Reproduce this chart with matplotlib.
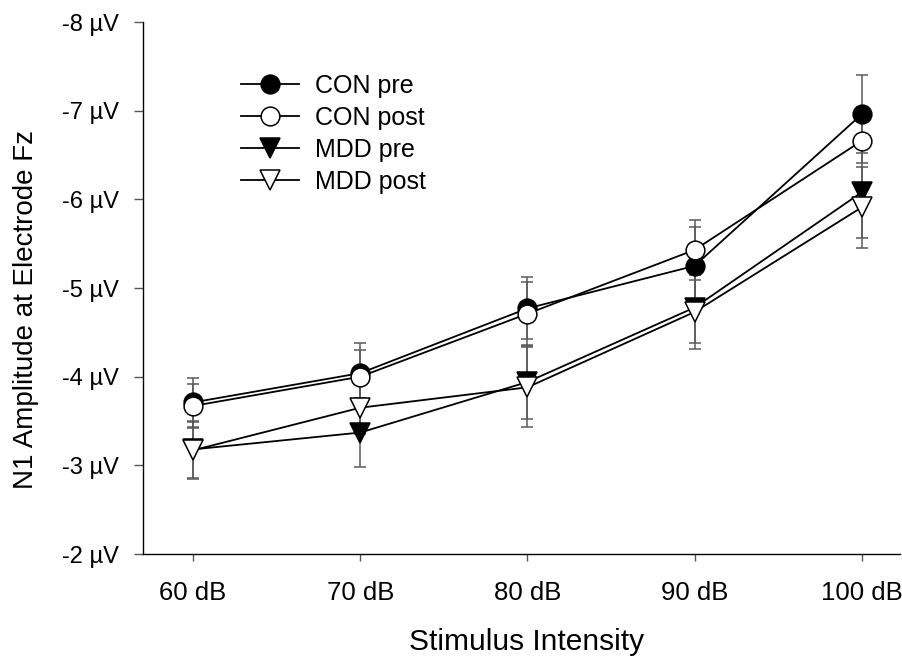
import matplotlib
matplotlib.use("Agg")
import matplotlib.pyplot as plt

# Stimulus intensities (dB)
intensity = [60, 70, 80, 90, 100]
tick_labels = ["60 dB", "70 dB", "80 dB", "90 dB", "100 dB"]

# N1 amplitude (µV) and standard errors
con_pre = [-3.71, -4.04, -4.77, -5.25, -6.96]
con_pre_err = [0.28, 0.34, 0.35, 0.44, 0.44]
con_post = [-3.67, -4.00, -4.71, -5.43, -6.66]
con_post_err = [0.25, 0.30, 0.36, 0.34, 0.25]
mdd_pre = [-3.18, -3.37, -3.94, -4.78, -6.08]
mdd_pre_err = [0.32, 0.39, 0.42, 0.40, 0.52]
mdd_post = [-3.17, -3.65, -3.88, -4.73, -5.91]
mdd_post_err = [0.32, 0.30, 0.45, 0.42, 0.46]

y_ticks = [-8, -7, -6, -5, -4, -3, -2]

plt.rcParams['font.family'] = ['Liberation Sans', 'DejaVu Sans']

fig = plt.figure(figsize=(9.02, 6.59), dpi=100)
ax = fig.add_axes([0.1585, 0.1593, 0.8395, 0.8073])

series = [
    (con_pre, con_pre_err, 'o', 'black', 'CON pre'),
    (con_post, con_post_err, 'o', 'white', 'CON post'),
    (mdd_pre, mdd_pre_err, 'v', 'black', 'MDD pre'),
    (mdd_post, mdd_post_err, 'v', 'white', 'MDD post'),
]

handles = []
for vals, err, mk, face, label in series:
    ax.errorbar(intensity, vals, yerr=err, fmt='none', ecolor='#5a5a5a',
                elinewidth=1.1, capsize=4, capthick=1.1, zorder=1)
    h, = ax.plot(intensity, vals, color='black', linewidth=1.3,
                 marker=mk, markersize=13.5 if mk == 'o' else 14.5,
                 markerfacecolor=face, markeredgecolor='black',
                 markeredgewidth=1.1, label=label, zorder=2)
    handles.append(h)

ax.set_xlim(57.0, 102.3)
ax.set_ylim(-2, -8)
ax.set_xticks(intensity)
ax.set_xticklabels(tick_labels)
ax.set_yticks(y_ticks)
ax.set_yticklabels([f"{v} µV" for v in y_ticks])

ax.spines['top'].set_visible(False)
ax.spines['right'].set_visible(False)
ax.spines['left'].set_linewidth(1.0)
ax.spines['bottom'].set_linewidth(1.0)
ax.tick_params(axis='y', direction='out', length=6.5, width=1.0,
               color='#555555', labelsize=17, pad=11)
ax.tick_params(axis='x', direction='out', length=5, width=1.0,
               color='#555555', labelsize=18.5, pad=14.5)

ax.set_xlabel("Stimulus Intensity", fontsize=21.5)
ax.xaxis.set_label_coords(0.507, -0.139)
ax.set_ylabel("N1 Amplitude at Electrode Fz", fontsize=20)
ax.yaxis.set_label_coords(-0.137, 0.46)

ax.legend(handles=handles, loc='upper left', bbox_to_anchor=(0.1295, 0.902),
          frameon=False, fontsize=18, handlelength=2.32, handletextpad=0.64,
          labelspacing=0.315, borderaxespad=0, borderpad=0)

fig.savefig('out.png', dpi=100)
